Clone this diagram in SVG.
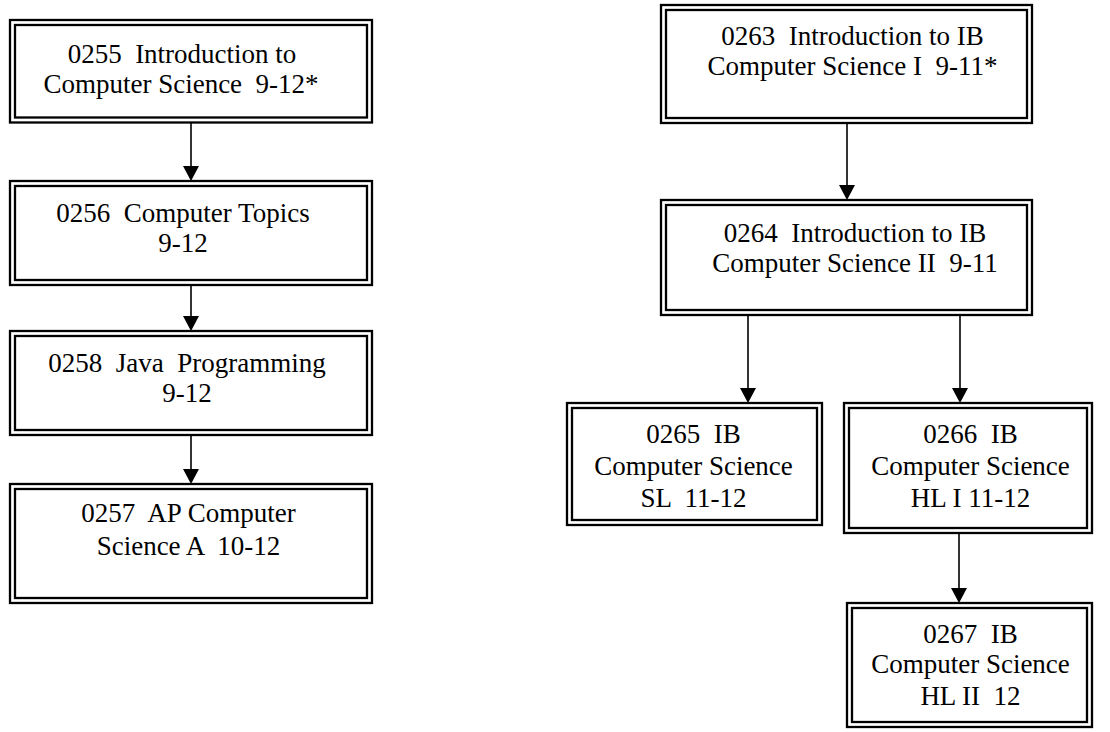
<svg xmlns="http://www.w3.org/2000/svg" width="1110" height="732" viewBox="0 0 1110 732" xml:space="preserve">
  <style>
    .frame { fill: none; stroke: #000; stroke-width: 2.3; }
    .label { font-family: "Liberation Serif", "Times New Roman", serif; font-size: 27px; fill: #000; text-anchor: middle; white-space: pre; }
    .wire { stroke: #000; stroke-width: 1.6; fill: none; }
    .tip { fill: #000; }
  </style>
  <rect width="1110" height="732" fill="#fff"/>

  <!-- connectors: shaft plus filled arrowhead -->
  <g id="connectors">
    <line class="wire" x1="191" y1="123" x2="191" y2="168"/>
    <path class="tip" d="M183,166 L199,166 L191,181 Z"/>
    <line class="wire" x1="191" y1="285" x2="191" y2="318"/>
    <path class="tip" d="M183,316 L199,316 L191,331 Z"/>
    <line class="wire" x1="191" y1="435" x2="191" y2="471"/>
    <path class="tip" d="M183,469 L199,469 L191,484 Z"/>
    <line class="wire" x1="847" y1="123" x2="847" y2="187"/>
    <path class="tip" d="M839,185 L855,185 L847,200 Z"/>
    <line class="wire" x1="748" y1="315" x2="748" y2="390"/>
    <path class="tip" d="M740,388 L756,388 L748,403 Z"/>
    <line class="wire" x1="960" y1="315" x2="960" y2="390"/>
    <path class="tip" d="M952,388 L968,388 L960,403 Z"/>
    <line class="wire" x1="959" y1="533" x2="959" y2="590"/>
    <path class="tip" d="M951,588 L967,588 L959,603 Z"/>
  </g>

  <!-- left column -->
  <g id="n0255">
    <rect class="frame" x="10" y="20" width="362" height="102.5"/>
    <rect class="frame" x="15" y="25" width="352" height="92.5"/>
    <text class="label" x="182" y="63">0255  Introduction to</text>
    <text class="label" x="181" y="93">Computer Science  9-12*</text>
  </g>
  <g id="n0256">
    <rect class="frame" x="10" y="181" width="362" height="104"/>
    <rect class="frame" x="15" y="186" width="352" height="94"/>
    <text class="label" x="183" y="222">0256  Computer Topics</text>
    <text class="label" x="183" y="252">9-12</text>
  </g>
  <g id="n0258">
    <rect class="frame" x="10" y="331" width="362" height="104"/>
    <rect class="frame" x="15" y="336" width="352" height="94"/>
    <text class="label" x="187" y="372">0258  Java  Programming</text>
    <text class="label" x="187" y="402">9-12</text>
  </g>
  <g id="n0257">
    <rect class="frame" x="10" y="484" width="362" height="119"/>
    <rect class="frame" x="15" y="489" width="352" height="109"/>
    <text class="label" x="188.5" y="522">0257  AP Computer</text>
    <text class="label" x="188.5" y="555">Science A  10-12</text>
  </g>

  <!-- right column -->
  <g id="n0263">
    <rect class="frame" x="661" y="5" width="371" height="118"/>
    <rect class="frame" x="666" y="10" width="361" height="108"/>
    <text class="label" x="852.5" y="45">0263  Introduction to IB</text>
    <text class="label" x="852.5" y="75">Computer Science I  9-11*</text>
  </g>
  <g id="n0264">
    <rect class="frame" x="661" y="200" width="371" height="115"/>
    <rect class="frame" x="666" y="205" width="361" height="105"/>
    <text class="label" x="855" y="242">0264  Introduction to IB</text>
    <text class="label" x="855" y="272">Computer Science II  9-11</text>
  </g>
  <g id="n0265">
    <rect class="frame" x="567" y="403" width="255" height="122"/>
    <rect class="frame" x="572" y="408" width="245" height="112"/>
    <text class="label" x="693.5" y="443">0265  IB</text>
    <text class="label" x="693.5" y="475">Computer Science</text>
    <text class="label" x="693.5" y="507">SL  11-12</text>
  </g>
  <g id="n0266">
    <rect class="frame" x="844" y="403" width="248" height="130"/>
    <rect class="frame" x="849" y="408" width="238" height="120"/>
    <text class="label" x="970.5" y="443">0266  IB</text>
    <text class="label" x="970.5" y="475">Computer Science</text>
    <text class="label" x="970.5" y="507">HL I 11-12</text>
  </g>
  <g id="n0267">
    <rect class="frame" x="847" y="603" width="245" height="124"/>
    <rect class="frame" x="852" y="608" width="235" height="114"/>
    <text class="label" x="970.5" y="643">0267  IB</text>
    <text class="label" x="970.5" y="673">Computer Science</text>
    <text class="label" x="970.5" y="705">HL II  12</text>
  </g>
</svg>
